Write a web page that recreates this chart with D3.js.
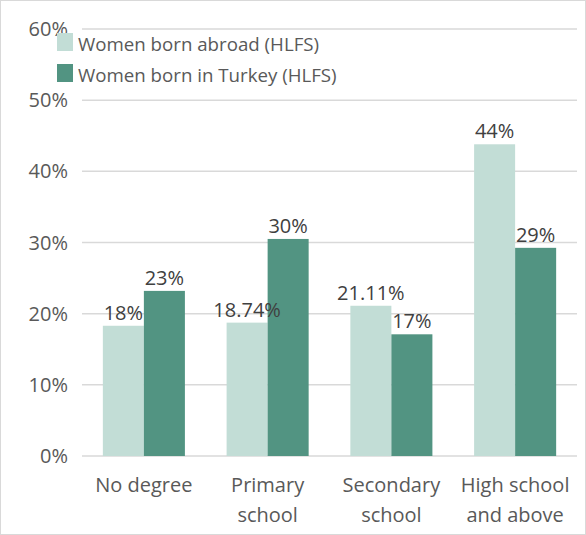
<!DOCTYPE html>
<html>
<head>
<meta charset="utf-8">
<script src="https://cdn.jsdelivr.net/npm/d3@7"></script>
<style>
  body { margin: 0; background: #fff; }
  text { font-family: "Open Sans", "Noto Sans", sans-serif; }
</style>
</head>
<body>
<div id="chart"></div>
<script>
// education levels
const categories = [
  ["No degree"],
  ["Primary", "school"],
  ["Secondary", "school"],
  ["High school", "and above"]
];
const seriesNames = ["Women born abroad (HLFS)", "Women born in Turkey (HLFS)"];
const abroad = [18.3, 18.74, 21.11, 43.8];
const turkey = [23.2, 30.5, 17.1, 29.25];
const abroadLabels = ["18%", "18.74%", "21.11%", "44%"];
const turkeyLabels = ["23%", "30%", "17%", "29%"];
const yTicks = [0, 10, 20, 30, 40, 50, 60];
const colors = ["#c2ddd6", "#529482"];

const W = 586, H = 535;
const margin = { top: 29, right: 9, bottom: 79, left: 82 };
const width = W - margin.left - margin.right;
const height = H - margin.top - margin.bottom;

const svg = d3.select("#chart").append("svg")
  .attr("width", W)
  .attr("height", H);

svg.append("rect")
  .attr("x", 0.5).attr("y", 0.5)
  .attr("width", W - 1).attr("height", H - 1)
  .attr("fill", "#fff")
  .attr("stroke", "#d9d9d9");

const g = svg.append("g")
  .attr("transform", "translate(" + margin.left + "," + margin.top + ")");

const x0 = d3.scaleBand()
  .domain(d3.range(categories.length))
  .range([0, width])
  .paddingInner(0.337)
  .paddingOuter(0.1685);

const x1 = d3.scaleBand()
  .domain([0, 1])
  .range([0, x0.bandwidth()]);

const y = d3.scaleLinear().domain([0, 60]).range([height, 0]);

// gridlines
g.selectAll(".grid")
  .data(yTicks)
  .enter()
  .append("line")
  .attr("class", "grid")
  .attr("x1", 0).attr("x2", width)
  .attr("y1", d => y(d)).attr("y2", d => y(d))
  .attr("stroke", "#d9d9d9")
  .attr("stroke-width", 1.5);

// y tick labels
g.selectAll(".ytick")
  .data(yTicks)
  .enter()
  .append("text")
  .attr("class", "ytick")
  .attr("x", -14)
  .attr("y", d => y(d))
  .attr("dy", "0.35em")
  .attr("text-anchor", "end")
  .attr("font-size", 20)
  .attr("fill", "#595959")
  .text(d => d + "%");

const rows = categories.map((c, i) => ({
  i: i,
  vals: [abroad[i], turkey[i]],
  labels: [abroadLabels[i], turkeyLabels[i]]
}));

const groups = g.selectAll(".cat")
  .data(rows)
  .enter()
  .append("g")
  .attr("class", "cat")
  .attr("transform", d => "translate(" + x0(d.i) + ",0)");

groups.selectAll("rect")
  .data(d => d.vals.map((v, s) => ({ v: v, s: s })))
  .enter()
  .append("rect")
  .attr("x", d => x1(d.s))
  .attr("y", d => y(d.v))
  .attr("width", x1.bandwidth())
  .attr("height", d => height - y(d.v))
  .attr("fill", d => colors[d.s]);

groups.selectAll(".val")
  .data(d => d.vals.map((v, s) => ({ v: v, s: s, t: d.labels[s] })))
  .enter()
  .append("text")
  .attr("class", "val")
  .attr("x", d => x1(d.s) + x1.bandwidth() / 2)
  .attr("y", d => y(d.v) - 6)
  .attr("text-anchor", "middle")
  .attr("font-size", 20)
  .attr("fill", "#404040")
  .text(d => d.t);

// category labels
const xl = g.selectAll(".xlab")
  .data(categories)
  .enter()
  .append("text")
  .attr("class", "xlab")
  .attr("text-anchor", "middle")
  .attr("font-size", 20)
  .attr("fill", "#595959")
  .attr("transform", (d, i) => "translate(" + (x0(i) + x0.bandwidth() / 2) + "," + (height + 36) + ")");

xl.selectAll("tspan")
  .data(d => d)
  .enter()
  .append("tspan")
  .attr("x", 0)
  .attr("y", (d, j) => j * 30)
  .text(d => d);

// legend
const legend = svg.append("g").attr("transform", "translate(57,33)");
seriesNames.forEach((name, i) => {
  legend.append("rect")
    .attr("x", 0).attr("y", i * 31)
    .attr("width", 16).attr("height", 18)
    .attr("fill", colors[i]);
  legend.append("text")
    .attr("x", 21).attr("y", i * 31 + 11)
    .attr("dy", "0.35em")
    .attr("font-size", 18.7)
    .attr("fill", "#595959")
    .text(name);
});
</script>
</body>
</html>
